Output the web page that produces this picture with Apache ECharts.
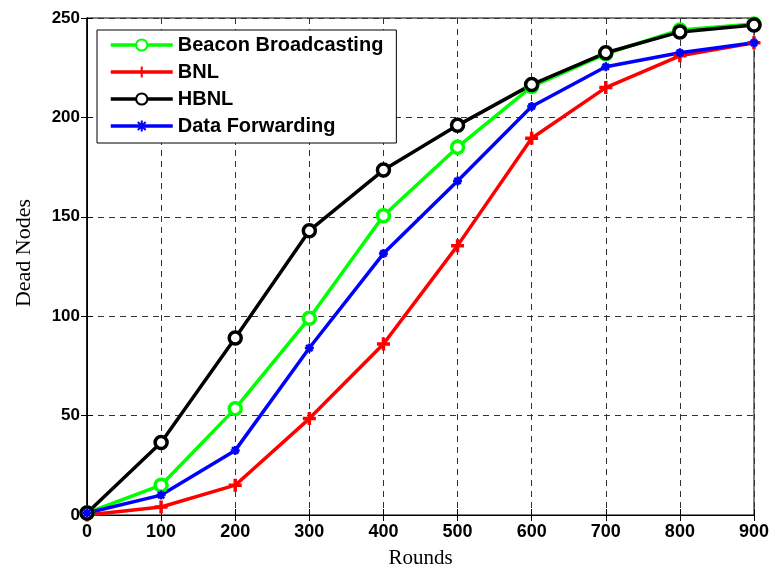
<!DOCTYPE html>
<html>
<head>
<meta charset="utf-8">
<script src="https://cdn.jsdelivr.net/npm/echarts@6/dist/echarts.min.js"></script>
<style>html,body{margin:0;padding:0;background:#fff}#c{width:773px;height:574px}</style>
</head>
<body>
<div id="c"></div>
<script>
var rounds = [0, 100, 200, 300, 400, 500, 600, 700, 800, 900];
var beacon = [1, 15, 53.5, 99, 150.5, 185, 215.5, 232, 244, 247];
var bnl = [0, 4, 15, 48.5, 86, 135.5, 189.5, 215, 231, 237.5];
var hbnl = [1, 36.5, 89, 143, 173.5, 196, 216.5, 232.5, 243, 246.5];
var dataFwd = [1, 10, 32.5, 84, 131.5, 168, 205.5, 225.5, 232.5, 237.5];
var seriesNames = ['Beacon Broadcasting', 'BNL', 'HBNL', 'Data Forwarding'];

function pairs(vals) { return rounds.map(function (r, i) { return [r, vals[i]]; }); }

var sans = "'Liberation Sans', Arial, sans-serif";
var serif = "'Liberation Serif', 'Times New Roman', serif";
var gridDash = { show: true, lineStyle: { color: '#333', width: 1, type: [6, 5] } };

var chart = echarts.init(document.getElementById('c'), null, { renderer: 'canvas' });
chart.setOption({
  animation: false,
  backgroundColor: '#fff',
  grid: { left: 87, right: 19, top: 18, bottom: 56, show: true, borderColor: '#000', borderWidth: 1, backgroundColor: 'transparent' },
  legend: {
    orient: 'vertical', left: 97, top: 30,
    padding: [5, 13, 7, 12],
    itemWidth: 62, itemHeight: 14, itemGap: 7,
    borderColor: '#000', borderWidth: 1, backgroundColor: '#fff',
    lineStyle: { width: 3.5 },
    textStyle: { fontFamily: sans, fontWeight: 'bold', fontSize: 20, color: '#000', lineHeight: 20 },
    data: seriesNames
  },
  xAxis: [{
    type: 'value', min: 0, max: 900, interval: 100,
    name: 'Rounds', nameLocation: 'middle', nameGap: 33,
    nameTextStyle: { fontFamily: serif, fontSize: 21, color: '#000' },
    axisLine: { show: true, lineStyle: { color: '#000', width: 1 } },
    axisTick: { show: true, inside: true, length: 6, lineStyle: { color: '#000' } },
    axisLabel: { fontFamily: sans, fontWeight: 'bold', fontSize: 18, color: '#000', margin: 8 },
    splitLine: gridDash
  }, {
    type: 'value', min: 0, max: 900, interval: 100, position: 'top',
    axisLine: { show: true, lineStyle: { color: '#000' } },
    axisTick: { show: true, inside: true, length: 6, lineStyle: { color: '#000' } },
    axisLabel: { show: false }, splitLine: { show: false }
  }],
  yAxis: [{
    type: 'value', min: 0, max: 250, interval: 50,
    axisLine: { show: true, lineStyle: { color: '#000', width: 1 } },
    axisTick: { show: true, inside: true, length: 6, lineStyle: { color: '#000' } },
    axisLabel: { fontFamily: sans, fontWeight: 'bold', fontSize: 17, color: '#000', margin: 7 },
    splitLine: gridDash
  }, {
    type: 'value', min: 0, max: 250, interval: 50, position: 'right',
    axisLine: { show: true, lineStyle: { color: '#000', width: 1.5 } },
    axisTick: { show: true, inside: true, length: 6, lineStyle: { color: '#000' } },
    axisLabel: { show: false }, splitLine: { show: false }
  }],
  graphic: [{
    type: 'text', x: 24, y: 253, rotation: Math.PI / 2,
    style: { text: 'Dead Nodes', fontFamily: serif, fontSize: 22, fill: '#000', align: 'center', verticalAlign: 'middle' }
  }],
  series: [{
    name: seriesNames[0], type: 'line', data: pairs(beacon), color: '#00ff00',
    symbol: 'circle', symbolSize: 12,
    lineStyle: { width: 3.5, color: '#00ff00' },
    itemStyle: { color: '#fff', borderColor: '#00ff00', borderWidth: 3.5 }
  }, {
    name: seriesNames[1], type: 'line', data: pairs(bnl), color: '#ff0000',
    symbol: 'path://M0,-6L0,6M-6,0L6,0', symbolSize: 13,
    lineStyle: { width: 3.5, color: '#ff0000' },
    itemStyle: { color: '#ff0000', borderColor: '#ff0000', borderWidth: 3.5 }
  }, {
    name: seriesNames[2], type: 'line', data: pairs(hbnl), color: '#000000',
    symbol: 'circle', symbolSize: 12,
    lineStyle: { width: 3.5, color: '#000' },
    itemStyle: { color: '#fff', borderColor: '#000', borderWidth: 3.5 }
  }, {
    name: seriesNames[3], type: 'line', data: pairs(dataFwd), color: '#0000ff',
    symbol: 'path://M0,-5L0,5M-5,0L5,0M-3.5,-3.5L3.5,3.5M-3.5,3.5L3.5,-3.5', symbolSize: 9,
    lineStyle: { width: 3.5, color: '#0000ff' },
    itemStyle: { color: '#0000ff', borderColor: '#0000ff', borderWidth: 2.5 }
  }]
});
</script>
</body>
</html>
